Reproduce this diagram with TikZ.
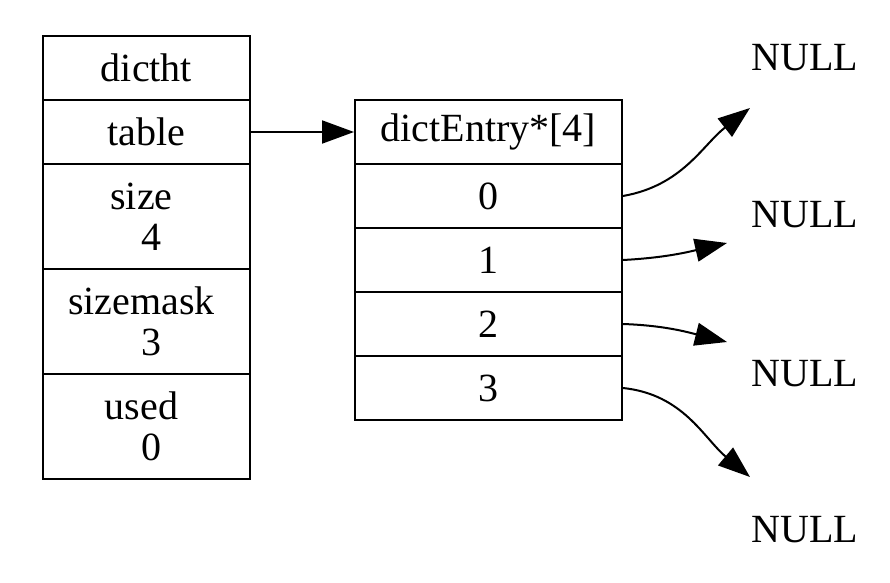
\documentclass[tikz,border=0pt]{standalone}
\usepackage{fontspec}
\setmainfont{Liberation Serif}
\usetikzlibrary{arrows.meta}
\newcommand{\twolines}[2]{#1\rule{5pt}{0pt}\\\rule{5pt}{0pt}#2}
\begin{document}
\begin{tikzpicture}[x=0.5pt,y=0.5pt,
    font=\fontsize{20}{20.5}\selectfont,
    cell/.style={draw,line width=1pt,inner sep=0pt,align=center},
    lcell/.style={cell,minimum width=103.5pt},
    rcell/.style={cell,minimum width=133.5pt,minimum height=32pt},
    ptr/.style={line width=1pt,-{Triangle[length=16pt,width=11.5pt]}}]
    \useasboundingbox (0,0) rectangle (890,-583);
    % dictht
    \node[lcell,minimum height=32pt] (dictht) at (146.5,-68) {dictht};
    \node[lcell,minimum height=32pt] (table) at (146.5,-132) {table};
    \node[lcell,minimum height=52.5pt] (size) at (146.5,-216.5) {\twolines{size}{4}};
    \node[lcell,minimum height=52.5pt] (sizemask) at (146.5,-321.5) {\twolines{sizemask}{3}};
    \node[lcell,minimum height=52.5pt] (used) at (146.5,-426.5) {\twolines{used}{0}};
    % dictEntry array
    \node[rcell] (entry) at (488.5,-132) {dictEntry*[4]};
    \foreach \i in {0,...,3}
      \node[rcell] (e\i) at (488.5,-196-64*\i) {\i};
    % NULL labels
    \node (null0) at (805,-58) {NULL};
    \node (null1) at (805,-215) {NULL};
    \node (null2) at (805,-374) {NULL};
    \node (null3) at (805,-530) {NULL};
    \coordinate (t0) at (750,-108);
    \coordinate (t1) at (727,-243);
    \coordinate (t2) at (727,-342);
    \coordinate (t3) at (750,-477);
    \draw[ptr] (table.east) -- (entry.west);
    \draw[ptr] (e0.east) to[out=10,in=218] (t0);
    \draw[ptr] (e1.east) to[out=3,in=193] (t1);
    \draw[ptr] (e2.east) to[out=-2,in=166] (t2);
    \draw[ptr] (e3.east) to[out=-6,in=140] (t3);
  \end{tikzpicture}
\end{document}
